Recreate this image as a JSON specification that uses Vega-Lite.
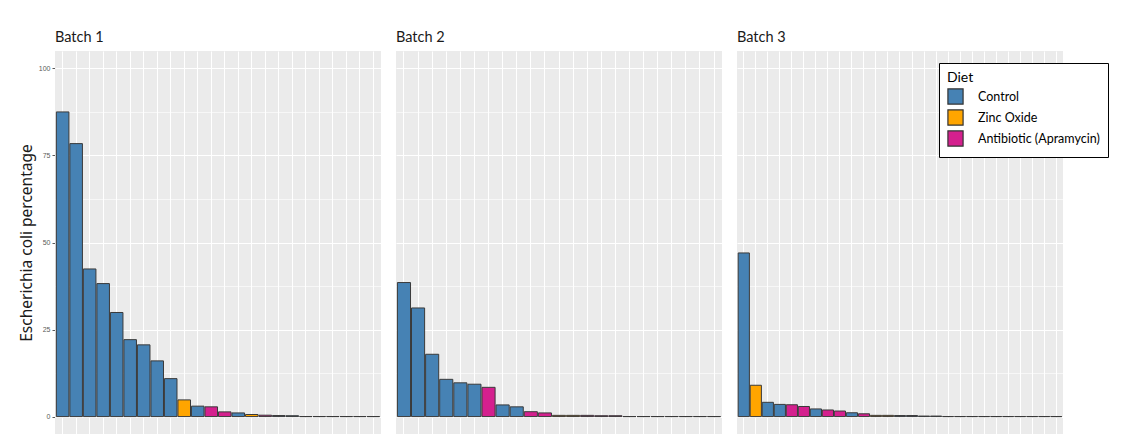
{
  "$schema": "https://vega.github.io/schema/vega-lite/v6.json",
  "padding": {"left": 19, "top": 29, "right": 0, "bottom": 0},
  "background": "white",
  "data": {
    "values": [
      {"batch": "Batch 1", "idx": 1, "diet": "Control", "value": 87.5},
      {"batch": "Batch 1", "idx": 2, "diet": "Control", "value": 78.4},
      {"batch": "Batch 1", "idx": 3, "diet": "Control", "value": 42.4},
      {"batch": "Batch 1", "idx": 4, "diet": "Control", "value": 38.2},
      {"batch": "Batch 1", "idx": 5, "diet": "Control", "value": 29.9},
      {"batch": "Batch 1", "idx": 6, "diet": "Control", "value": 22.1},
      {"batch": "Batch 1", "idx": 7, "diet": "Control", "value": 20.6},
      {"batch": "Batch 1", "idx": 8, "diet": "Control", "value": 16.0},
      {"batch": "Batch 1", "idx": 9, "diet": "Control", "value": 10.9},
      {"batch": "Batch 1", "idx": 10, "diet": "Zinc Oxide", "value": 4.8},
      {"batch": "Batch 1", "idx": 11, "diet": "Control", "value": 3.0},
      {"batch": "Batch 1", "idx": 12, "diet": "Antibiotic (Apramycin)", "value": 2.8},
      {"batch": "Batch 1", "idx": 13, "diet": "Antibiotic (Apramycin)", "value": 1.35},
      {"batch": "Batch 1", "idx": 14, "diet": "Control", "value": 1.05},
      {"batch": "Batch 1", "idx": 15, "diet": "Zinc Oxide", "value": 0.6},
      {"batch": "Batch 1", "idx": 16, "diet": "Antibiotic (Apramycin)", "value": 0.4},
      {"batch": "Batch 1", "idx": 17, "diet": "Control", "value": 0.3},
      {"batch": "Batch 1", "idx": 18, "diet": "Control", "value": 0.25},
      {"batch": "Batch 1", "idx": 19, "diet": "Control", "value": 0},
      {"batch": "Batch 1", "idx": 20, "diet": "Control", "value": 0},
      {"batch": "Batch 1", "idx": 21, "diet": "Control", "value": 0},
      {"batch": "Batch 1", "idx": 22, "diet": "Control", "value": 0},
      {"batch": "Batch 1", "idx": 23, "diet": "Control", "value": 0},
      {"batch": "Batch 1", "idx": 24, "diet": "Control", "value": 0},
      {"batch": "Batch 2", "idx": 1, "diet": "Control", "value": 38.5},
      {"batch": "Batch 2", "idx": 2, "diet": "Control", "value": 31.2},
      {"batch": "Batch 2", "idx": 3, "diet": "Control", "value": 17.9},
      {"batch": "Batch 2", "idx": 4, "diet": "Control", "value": 10.7},
      {"batch": "Batch 2", "idx": 5, "diet": "Control", "value": 9.7},
      {"batch": "Batch 2", "idx": 6, "diet": "Control", "value": 9.3},
      {"batch": "Batch 2", "idx": 7, "diet": "Antibiotic (Apramycin)", "value": 8.4},
      {"batch": "Batch 2", "idx": 8, "diet": "Control", "value": 3.35},
      {"batch": "Batch 2", "idx": 9, "diet": "Control", "value": 2.8},
      {"batch": "Batch 2", "idx": 10, "diet": "Antibiotic (Apramycin)", "value": 1.4},
      {"batch": "Batch 2", "idx": 11, "diet": "Antibiotic (Apramycin)", "value": 1.05},
      {"batch": "Batch 2", "idx": 12, "diet": "Zinc Oxide", "value": 0.35},
      {"batch": "Batch 2", "idx": 13, "diet": "Zinc Oxide", "value": 0.35},
      {"batch": "Batch 2", "idx": 14, "diet": "Antibiotic (Apramycin)", "value": 0.35},
      {"batch": "Batch 2", "idx": 15, "diet": "Antibiotic (Apramycin)", "value": 0.25},
      {"batch": "Batch 2", "idx": 16, "diet": "Antibiotic (Apramycin)", "value": 0.25},
      {"batch": "Batch 2", "idx": 17, "diet": "Control", "value": 0},
      {"batch": "Batch 2", "idx": 18, "diet": "Control", "value": 0},
      {"batch": "Batch 2", "idx": 19, "diet": "Control", "value": 0},
      {"batch": "Batch 2", "idx": 20, "diet": "Control", "value": 0},
      {"batch": "Batch 2", "idx": 21, "diet": "Control", "value": 0},
      {"batch": "Batch 2", "idx": 22, "diet": "Control", "value": 0},
      {"batch": "Batch 2", "idx": 23, "diet": "Control", "value": 0},
      {"batch": "Batch 3", "idx": 1, "diet": "Control", "value": 47.0},
      {"batch": "Batch 3", "idx": 2, "diet": "Zinc Oxide", "value": 9.0},
      {"batch": "Batch 3", "idx": 3, "diet": "Control", "value": 4.1},
      {"batch": "Batch 3", "idx": 4, "diet": "Control", "value": 3.5},
      {"batch": "Batch 3", "idx": 5, "diet": "Antibiotic (Apramycin)", "value": 3.4},
      {"batch": "Batch 3", "idx": 6, "diet": "Antibiotic (Apramycin)", "value": 2.9},
      {"batch": "Batch 3", "idx": 7, "diet": "Control", "value": 2.2},
      {"batch": "Batch 3", "idx": 8, "diet": "Antibiotic (Apramycin)", "value": 1.9},
      {"batch": "Batch 3", "idx": 9, "diet": "Antibiotic (Apramycin)", "value": 1.6},
      {"batch": "Batch 3", "idx": 10, "diet": "Control", "value": 1.1},
      {"batch": "Batch 3", "idx": 11, "diet": "Antibiotic (Apramycin)", "value": 0.8},
      {"batch": "Batch 3", "idx": 12, "diet": "Zinc Oxide", "value": 0.35},
      {"batch": "Batch 3", "idx": 13, "diet": "Zinc Oxide", "value": 0.35},
      {"batch": "Batch 3", "idx": 14, "diet": "Control", "value": 0.3},
      {"batch": "Batch 3", "idx": 15, "diet": "Control", "value": 0.3},
      {"batch": "Batch 3", "idx": 16, "diet": "Control", "value": 0.15},
      {"batch": "Batch 3", "idx": 17, "diet": "Control", "value": 0.15},
      {"batch": "Batch 3", "idx": 18, "diet": "Control", "value": 0},
      {"batch": "Batch 3", "idx": 19, "diet": "Control", "value": 0},
      {"batch": "Batch 3", "idx": 20, "diet": "Control", "value": 0},
      {"batch": "Batch 3", "idx": 21, "diet": "Control", "value": 0},
      {"batch": "Batch 3", "idx": 22, "diet": "Control", "value": 0},
      {"batch": "Batch 3", "idx": 23, "diet": "Control", "value": 0},
      {"batch": "Batch 3", "idx": 24, "diet": "Control", "value": 0},
      {"batch": "Batch 3", "idx": 25, "diet": "Control", "value": 0},
      {"batch": "Batch 3", "idx": 26, "diet": "Control", "value": 0},
      {"batch": "Batch 3", "idx": 27, "diet": "Control", "value": 0}
    ]
  },
  "facet": {
    "column": {
      "field": "batch",
      "type": "nominal",
      "header": {
        "title": null,
        "labelAnchor": "start",
        "labelFont": "Lato",
        "labelFontSize": 14.5,
        "labelColor": "#1a1a1a",
        "labelPadding": 6
      }
    }
  },
  "spacing": 15,
  "resolve": {"scale": {"x": "independent"}},
  "spec": {
    "width": 326,
    "height": 383,
    "encoding": {
      "x": {
        "field": "idx",
        "type": "ordinal",
        "sort": "ascending",
        "scale": {"paddingInner": 0.07, "paddingOuter": 0.1},
        "axis": {
          "title": null,
          "labels": false,
          "ticks": false,
          "domain": false,
          "grid": true,
          "gridColor": "white",
          "gridWidth": 1
        }
      }
    },
    "layer": [
      {
        "mark": {"type": "bar", "opacity": 0},
        "encoding": {
          "y": {
            "field": "value",
            "type": "quantitative",
            "scale": {"domain": [-5, 105], "nice": false, "zero": false},
            "axis": {
              "orient": "left",
              "values": [12.5, 37.5, 62.5, 87.5],
              "title": null,
              "labels": false,
              "ticks": false,
              "domain": false,
              "grid": true,
              "gridColor": "white",
              "gridWidth": 0.6
            }
          }
        }
      },
      {
        "mark": {"type": "bar", "stroke": "#3a3a3a", "strokeWidth": 1},
        "encoding": {
          "y": {
            "field": "value",
            "type": "quantitative",
            "scale": {"domain": [-5, 105], "nice": false, "zero": false},
            "axis": {
              "orient": "left",
              "values": [0, 25, 50, 75, 100],
              "title": "Escherichia coli percentage",
              "titleFont": "Noto Sans",
              "titleFontSize": 15.5,
              "titleFontWeight": "normal",
              "titleColor": "#1a1a1a",
              "titlePadding": 4,
              "labelFont": "Liberation Sans",
              "labelFontSize": 7,
              "labelColor": "#5a5a5a",
              "tickColor": "#5a5a5a",
              "tickSize": 3,
              "labelPadding": 2,
              "domain": false,
              "grid": true,
              "gridColor": "white",
              "gridWidth": 1.2
            }
          },
          "fill": {
            "field": "diet",
            "type": "nominal",
            "scale": {
              "domain": ["Control", "Zinc Oxide", "Antibiotic (Apramycin)"],
              "range": ["#4682B4", "#FFA500", "#D4208E"]
            },
            "legend": {
              "orient": "none",
              "legendX": 884,
              "legendY": 12,
              "title": "Diet",
              "titleFont": "Lato",
              "titleFontSize": 14,
              "titleFontWeight": "normal",
              "titleColor": "black",
              "titlePadding": 3,
              "labelFont": "Lato",
              "labelFontSize": 12.5,
              "labelColor": "black",
              "labelOffset": 14,
              "symbolType": "square",
              "symbolSize": 230,
              "symbolStrokeColor": "#333333",
              "symbolStrokeWidth": 1.2,
              "rowPadding": 0,
              "padding": 8,
              "fillColor": "white",
              "strokeColor": "black"
            }
          }
        }
      }
    ],
    "resolve": {"axis": {"y": "independent"}}
  },
  "config": {
    "view": {"fill": "#EBEBEB", "stroke": null}
  }
}
